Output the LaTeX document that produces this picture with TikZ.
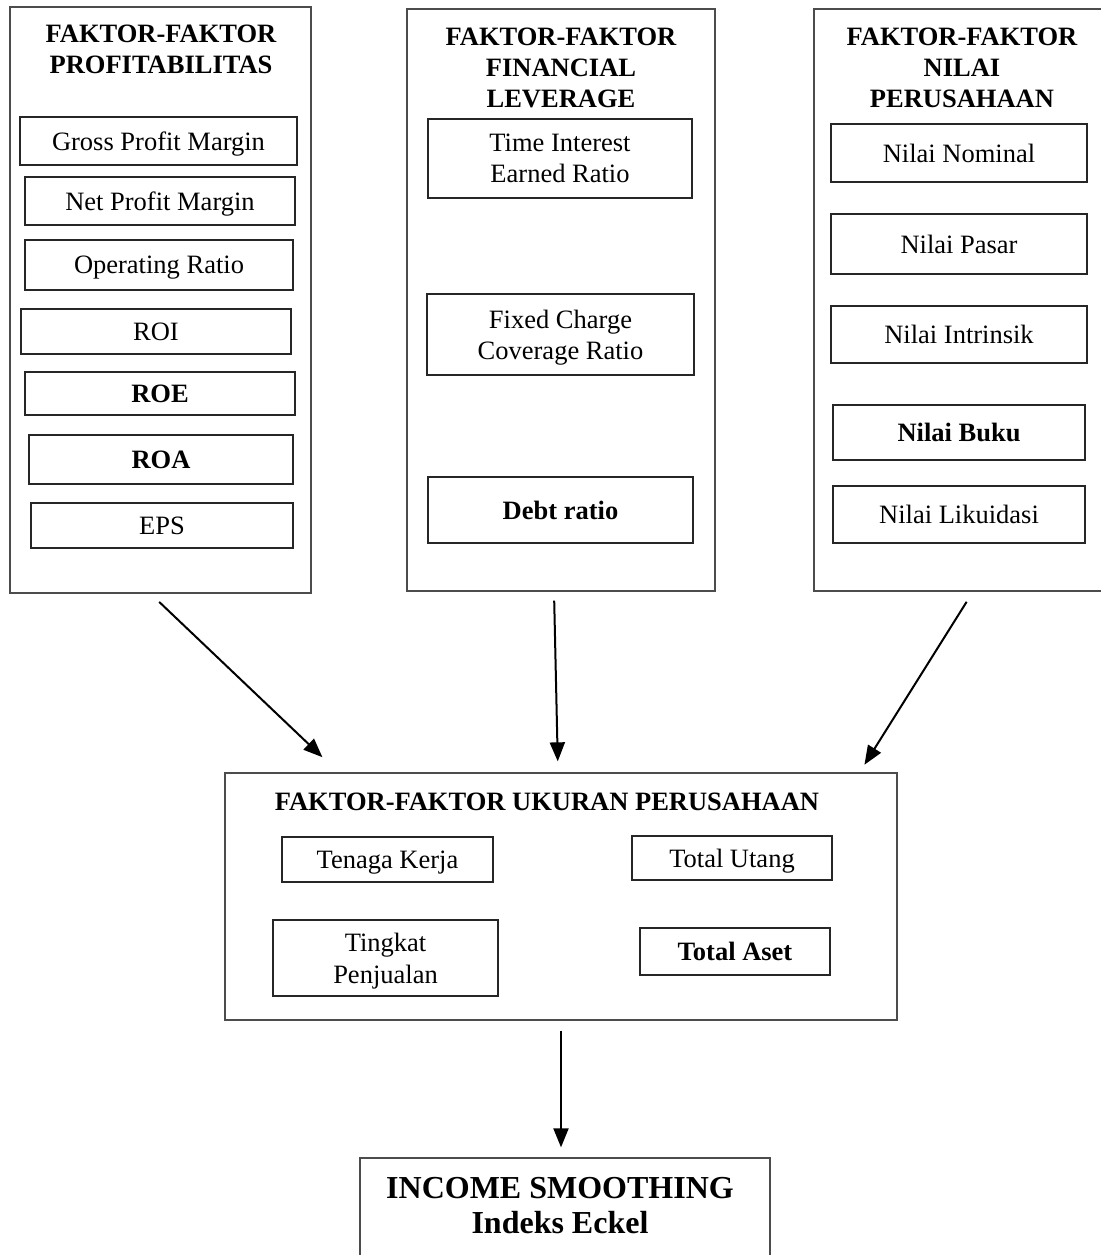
\documentclass[tikz,border=0pt]{standalone}
\usepackage{fontspec}
\setmainfont{Liberation Serif}
\usetikzlibrary{arrows.meta}
\newcommand{\fsz}{\fontsize{26.5}{31}\selectfont}
\tikzset{
  kotak/.style={draw=black!70, line width=1.3pt, rectangle, inner sep=0pt},
  item/.style={draw=black!85, line width=1.1pt, rectangle, inner sep=0pt, text depth=0pt, align=center, font=\fsz},
  judul/.style={align=center, font=\fsz\bfseries},
  panah/.style={-{Triangle[length=19pt,width=15pt]}, line width=2pt},
}
\begin{document}
\begin{tikzpicture}[x=1pt, y=-1pt]
    \useasboundingbox (0,0) rectangle (1100,1255);
    \path (160.5,300) node (prof) [kotak, minimum width=301pt, minimum height=586pt] {}
    (561,300) node (fin) [kotak, minimum width=308pt, minimum height=582pt] {}
    (958,300) node (nilai) [kotak, minimum width=288pt, minimum height=582pt] {}
    (561,896.5) node (ukuran) [kotak, minimum width=672pt, minimum height=247pt] {}
    (565,1228) node (income) [kotak, minimum width=410pt, minimum height=140pt] {};
    \path (161,49) node (jprof) [judul] {FAKTOR-FAKTOR\\PROFITABILITAS}
    (561,68) node (jfin) [judul] {FAKTOR-FAKTOR\\FINANCIAL\\LEVERAGE}
    (962,68) node (jnilai) [judul] {FAKTOR-FAKTOR\\NILAI\\PERUSAHAAN}
    (547,802) node (jukuran) [judul] {FAKTOR-FAKTOR UKURAN PERUSAHAAN}
    (560,1206) node (jincome) [judul, font=\fontsize{32}{35}\selectfont\bfseries] {INCOME SMOOTHING\\Indeks Eckel};
    \path (158.5,141) node (gpm) [item, minimum width=277pt, minimum height=48pt] {Gross Profit Margin}
    (160,201) node (npm) [item, minimum width=270pt, minimum height=48pt] {Net Profit Margin}
    (159,265) node (opr) [item, minimum width=268pt, minimum height=50pt] {Operating Ratio}
    (156,331.5) node (roi) [item, minimum width=270pt, minimum height=45pt] {ROI}
    (160,393.5) node (roe) [item, minimum width=270pt, minimum height=43pt] {\textbf{ROE}}
    (161,459.5) node (roa) [item, minimum width=264pt, minimum height=49pt] {\textbf{ROA}}
    (162,525.5) node (eps) [item, minimum width=262pt, minimum height=45pt] {EPS};
    \path (560,158.5) node (tie) [item, minimum width=264pt, minimum height=79pt] {Time Interest\\Earned Ratio}
    (560.5,334.5) node (fcc) [item, minimum width=267pt, minimum height=81pt] {Fixed Charge\\Coverage Ratio}
    (560.5,510) node (debt) [item, minimum width=265pt, minimum height=66pt] {\textbf{Debt ratio}};
    \path (959,153) node (nom) [item, minimum width=256pt, minimum height=58pt] {Nilai Nominal}
    (959,244) node (pasar) [item, minimum width=256pt, minimum height=60pt] {Nilai Pasar}
    (959,334.5) node (intr) [item, minimum width=256pt, minimum height=57pt] {Nilai Intrinsik}
    (959,432.5) node (buku) [item, minimum width=252pt, minimum height=55pt] {\textbf{Nilai Buku}}
    (959,514.5) node (likuid) [item, minimum width=252pt, minimum height=57pt] {Nilai Likuidasi};
    \path (387.5,859.5) node (tenaga) [item, minimum width=211pt, minimum height=45pt] {Tenaga Kerja}
    (732,858) node (utang) [item, minimum width=200pt, minimum height=44pt] {Total Utang}
    (385.5,958) node (jual) [item, minimum width=225pt, minimum height=76pt] {Tingkat\\[1pt]Penjualan}
    (735,951.5) node (aset) [item, minimum width=190pt, minimum height=47pt] {\textbf{Total Aset}};
    \draw [panah, shorten <=12pt, shorten >=22pt] ([xshift=-10pt]prof.south) -- ([xshift=114pt]ukuran.north west);
    \draw [panah, shorten <=9pt, shorten >=11pt] ([xshift=-7pt]fin.south) -- ([xshift=-3pt]ukuran.north);
    \draw [panah, shorten <=12pt, shorten >=9pt] ([xshift=15pt]nilai.south) -- ([xshift=-38pt]ukuran.north east);
    \draw [panah, shorten <=10pt, shorten >=10pt] (ukuran.south) -- ([xshift=-4pt]income.north);
\end{tikzpicture}
\end{document}
